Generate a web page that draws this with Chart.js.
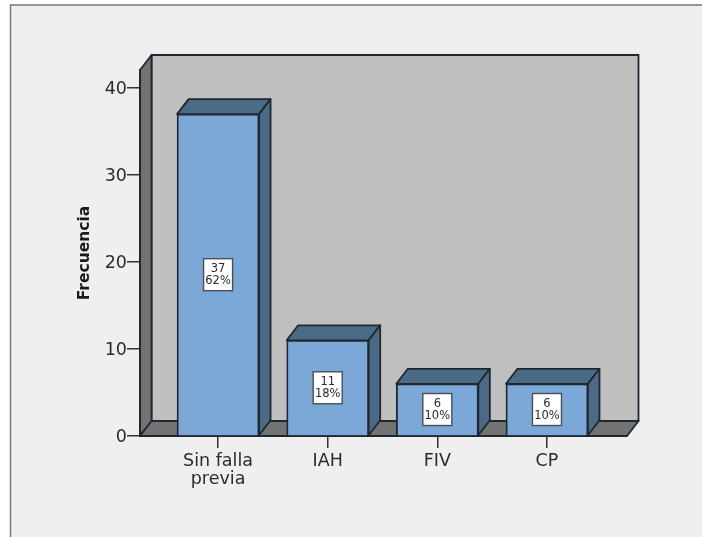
<!DOCTYPE html>
<html>
<head>
<meta charset="utf-8">
<style>
  html, body { margin: 0; padding: 0; background: #fff; }
  canvas { display: block; }
</style>
<script src="https://cdn.jsdelivr.net/npm/chart.js@4"></script>
</head>
<body>
<canvas id="chart" width="702" height="537"></canvas>
<script>
// Frequency of prior failure type
const categories = [["Sin falla", "previa"], "IAH", "FIV", "CP"];
const frequencies = [37, 11, 6, 6];
const percentages = ["62%", "18%", "10%", "10%"];
const yTicks = [0, 10, 20, 30, 40];

const FONT = '"DejaVu Sans", sans-serif';
const DEPTH_X = 11.5;
const DEPTH_Y = 15;
const EDGE = "#1f2730";
const EDGE_WIDTH = 1.8;

function polygon(ctx, pts, fill, stroke, lw) {
  ctx.beginPath();
  pts.forEach((p, i) => (i ? ctx.lineTo(p[0], p[1]) : ctx.moveTo(p[0], p[1])));
  ctx.closePath();
  ctx.fillStyle = fill;
  ctx.fill();
  ctx.lineJoin = "round";
  ctx.lineWidth = lw;
  ctx.strokeStyle = stroke;
  ctx.stroke();
}

// Page panel, 3D walls and floor behind the bars
const backdrop = {
  id: "backdrop",
  beforeDraw(chart) {
    const { ctx, chartArea: a } = chart;
    ctx.save();
    ctx.fillStyle = "#ffffff";
    ctx.fillRect(0, 0, chart.width, chart.height);
    ctx.fillStyle = "#efefef";
    ctx.fillRect(10, 4, chart.width - 10, chart.height - 4);
    ctx.strokeStyle = "#777777";
    ctx.lineWidth = 1.5;
    ctx.beginPath();
    ctx.moveTo(10.5, chart.height);
    ctx.lineTo(10.5, 5);
    ctx.lineTo(chart.width, 5);
    ctx.stroke();

    const bx = a.left + DEPTH_X, rx = a.right + DEPTH_X;
    const ty = a.top - DEPTH_Y, by = a.bottom - DEPTH_Y;
    polygon(ctx, [[bx, ty], [rx, ty], [rx, by], [bx, by]], "#bfbfbf", EDGE, EDGE_WIDTH);
    polygon(ctx, [[a.left, a.bottom], [a.left, a.top], [bx, ty], [bx, by]], "#737373", EDGE, EDGE_WIDTH);
    polygon(ctx, [[a.left, a.bottom], [bx, by], [rx, by], [a.right, a.bottom]], "#737373", EDGE, EDGE_WIDTH);
    ctx.restore();
  },
  // Side and top faces of each bar
  beforeDatasetsDraw(chart) {
    const { ctx } = chart;
    ctx.save();
    chart.getDatasetMeta(0).data.forEach((bar) => {
      const l = bar.x - bar.width / 2, r = bar.x + bar.width / 2;
      polygon(ctx, [[l, bar.y], [l + DEPTH_X, bar.y - DEPTH_Y], [r + DEPTH_X, bar.y - DEPTH_Y], [r, bar.y]], "#4a6a86", EDGE, EDGE_WIDTH);
      polygon(ctx, [[r, bar.y], [r + DEPTH_X, bar.y - DEPTH_Y], [r + DEPTH_X, bar.base - DEPTH_Y], [r, bar.base]], "#4a6a86", EDGE, EDGE_WIDTH);
    });
    ctx.restore();
  },
  // Count and percentage box in the middle of each bar
  afterDatasetsDraw(chart) {
    const { ctx } = chart;
    ctx.save();
    chart.getDatasetMeta(0).data.forEach((bar, i) => {
      const cy = (bar.y + bar.base) / 2;
      ctx.fillStyle = "#ffffff";
      ctx.strokeStyle = "#4a4f55";
      ctx.lineWidth = 1.4;
      ctx.fillRect(bar.x - 14.5, cy - 16, 29, 32);
      ctx.strokeRect(bar.x - 14.5, cy - 16, 29, 32);
      ctx.fillStyle = "#2b2b2b";
      ctx.font = "11.5px " + FONT;
      ctx.textAlign = "center";
      ctx.textBaseline = "middle";
      ctx.fillText(String(frequencies[i]), bar.x, cy - 6);
      ctx.fillText(percentages[i], bar.x, cy + 6.5);
    });
    ctx.restore();
  }
};

new Chart(document.getElementById("chart"), {
  type: "bar",
  data: {
    datasets: [{
      data: frequencies.map((v, i) => ({ x: i, y: v })),
      backgroundColor: "#7ba8d6",
      borderColor: EDGE,
      borderWidth: EDGE_WIDTH,
      barThickness: 82
    }]
  },
  options: {
    responsive: false,
    animation: false,
    devicePixelRatio: 1,
    layout: { padding: { top: 70, right: 75, bottom: 0, left: 0 } },
    plugins: { legend: { display: false }, tooltip: { enabled: false } },
    scales: {
      x: {
        type: "linear",
        offset: false,
        min: -0.712,
        max: 3.73,
        afterFit(s) { s.height = 101; },
        afterBuildTicks(s) { s.ticks = categories.map((_, i) => ({ value: i })); },
        grid: { offset: false, drawOnChartArea: false, drawTicks: true, tickLength: 12, color: "#333333", lineWidth: 1.5 },
        border: { color: EDGE, width: EDGE_WIDTH },
        ticks: {
          autoSkip: false,
          maxRotation: 0,
          padding: 4,
          color: "#2b2b2b",
          font: { family: FONT, size: 17.5, lineHeight: 1.06 },
          callback: (v) => categories[v]
        }
      },
      y: {
        min: 0,
        max: 42.07,
        afterFit(s) { s.width = 140; },
        afterBuildTicks(s) { s.ticks = yTicks.map((v) => ({ value: v })); },
        grid: { drawOnChartArea: false, drawTicks: true, tickLength: 13, color: "#333333", lineWidth: 1.5 },
        border: { color: EDGE, width: EDGE_WIDTH },
        ticks: {
          padding: 0,
          labelOffset: 1.5,
          color: "#2b2b2b",
          font: { family: FONT, size: 17.5 }
        },
        title: {
          display: true,
          text: "Frecuencia",
          color: "#1a1a1a",
          font: { family: FONT, size: 15.5, weight: "bold" },
          padding: { top: 76, bottom: 0 }
        }
      }
    }
  },
  plugins: [backdrop]
});
</script>
</body>
</html>
